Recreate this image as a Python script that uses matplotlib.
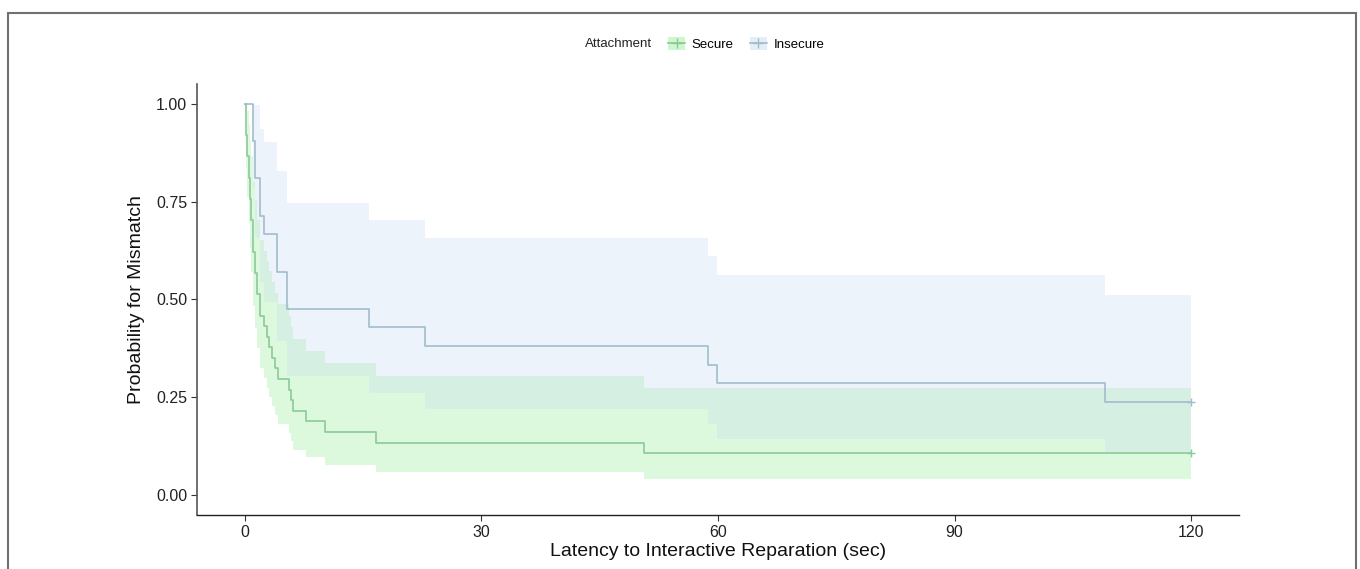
import matplotlib
matplotlib.use("Agg")
import matplotlib.pyplot as plt
from matplotlib.patches import Patch, Rectangle
from matplotlib.lines import Line2D

plt.rcParams['font.family'] = ['Liberation Sans', 'DejaVu Sans']

# Kaplan-Meier estimates with 95% confidence bands, per attachment group
sec_time = [0, 0.1, 0.3, 0.5, 0.7, 0.85, 1.0, 1.3, 1.6, 1.9, 2.4, 2.8, 3.1, 3.4, 3.8, 4.2,
            5.6, 5.8, 6.1, 7.8, 10.2, 16.6, 50.6]
sec_surv = [1.0, 0.919, 0.865, 0.811, 0.757, 0.703, 0.622, 0.568, 0.514, 0.459, 0.432, 0.405,
            0.378, 0.351, 0.324, 0.297, 0.270, 0.243, 0.216, 0.189, 0.162, 0.135, 0.108]
sec_upper = [1.0, 1.0, 0.982, 0.947, 0.908, 0.867, 0.800, 0.752, 0.703, 0.651, 0.625, 0.599,
             0.572, 0.544, 0.516, 0.488, 0.459, 0.429, 0.400, 0.368, 0.337, 0.305, 0.273]
sec_lower = [1.0, 0.835, 0.761, 0.694, 0.631, 0.570, 0.483, 0.428, 0.375, 0.324, 0.299, 0.274,
             0.250, 0.227, 0.204, 0.181, 0.159, 0.138, 0.117, 0.097, 0.078, 0.060, 0.043]

ins_time = [0, 1.1, 1.3, 1.9, 2.4, 4.1, 5.4, 15.8, 22.8, 58.7, 59.9, 109.1]
ins_surv = [1.0, 0.905, 0.810, 0.714, 0.667, 0.571, 0.476, 0.429, 0.381, 0.333, 0.286, 0.238]
ins_upper = [1.0, 1.0, 0.997, 0.936, 0.902, 0.827, 0.746, 0.703, 0.657, 0.610, 0.562, 0.512]
ins_lower = [1.0, 0.787, 0.658, 0.545, 0.493, 0.395, 0.304, 0.261, 0.221, 0.182, 0.145, 0.111]

follow_up_end = 120
groups = ["Secure", "Insecure"]
fill_colors = {"Secure": "#90EE90", "Insecure": "#c3daf2"}
line_colors = {"Secure": "#8cc99a", "Insecure": "#a2bccb"}


def extend(times, values):
    # carry the last value to the end of follow-up for step drawing
    return list(times) + [follow_up_end], list(values) + [values[-1]]


fig = plt.figure(figsize=(13.6, 5.69), dpi=100)
ax = fig.add_axes([0.1452, 0.0949, 0.7655, 0.7575])

curves = {
    "Secure": (sec_time, sec_surv, sec_upper, sec_lower),
    "Insecure": (ins_time, ins_surv, ins_upper, ins_lower),
}

for g in groups:
    t, s, up, lo = curves[g]
    tt, uu = extend(t, up)
    _, ll = extend(t, lo)
    ax.fill_between(tt, ll, uu, step='post', color=fill_colors[g], alpha=0.3, linewidth=0)

for g in groups:
    t, s, up, lo = curves[g]
    tt, ss = extend(t, s)
    ax.step(tt, ss, where='post', color=line_colors[g], linewidth=1.2)
    # censored observations at the end of follow-up
    ax.plot([follow_up_end], [s[-1]], marker='+', markersize=6, color=line_colors[g],
            markeredgewidth=1.0, linestyle='none')

ax.set_xlim(-6, 126)
ax.set_ylim(-0.05, 1.05)
ax.set_xticks([0, 30, 60, 90, 120])
ax.set_yticks([0, 0.25, 0.5, 0.75, 1.0])
ax.set_yticklabels(["0.00", "0.25", "0.50", "0.75", "1.00"])
ax.tick_params(labelsize=11.5, length=4, width=0.8, color="#333333", labelcolor="#222222")
for side in ["top", "right"]:
    ax.spines[side].set_visible(False)
ax.spines["left"].set_color("#555555")
ax.spines["left"].set_linewidth(1.2)
ax.spines["bottom"].set_color("#222222")
ax.spines["bottom"].set_linewidth(1.0)

ax.set_xlabel("Latency to Interactive Reparation (sec)", fontsize=14, labelpad=2, color="#111111")
ax.set_ylabel("Probability for Mismatch", fontsize=14, labelpad=8, color="#111111")

# legend strip across the top
fig.text(585 / 1360, 1 - 44 / 569, "Attachment", fontsize=9.5, va='center', ha='left', color="#222222")
handles = []
for g in groups:
    patch = Patch(facecolor=fill_colors[g], alpha=0.45, edgecolor='none')
    line = Line2D([], [], color=line_colors[g], linewidth=1.2, marker='+', markersize=7)
    handles.append((patch, line))
fig.legend(handles, groups, loc='center left', bbox_to_anchor=(668 / 1360, 1 - 44 / 569),
           ncol=2, frameon=False, fontsize=9.5, handlelength=1.3, handleheight=1.2,
           handletextpad=0.5, columnspacing=1.2, borderaxespad=0, borderpad=0)

# thin frame around the figure
fig.patches.append(Rectangle((8 / 1360, -0.1), (1355.5 - 8) / 1360, 1.1 - 13 / 569,
                             transform=fig.transFigure, fill=False, edgecolor="#707070",
                             linewidth=1.5))

fig.savefig("out.png", dpi=100)
